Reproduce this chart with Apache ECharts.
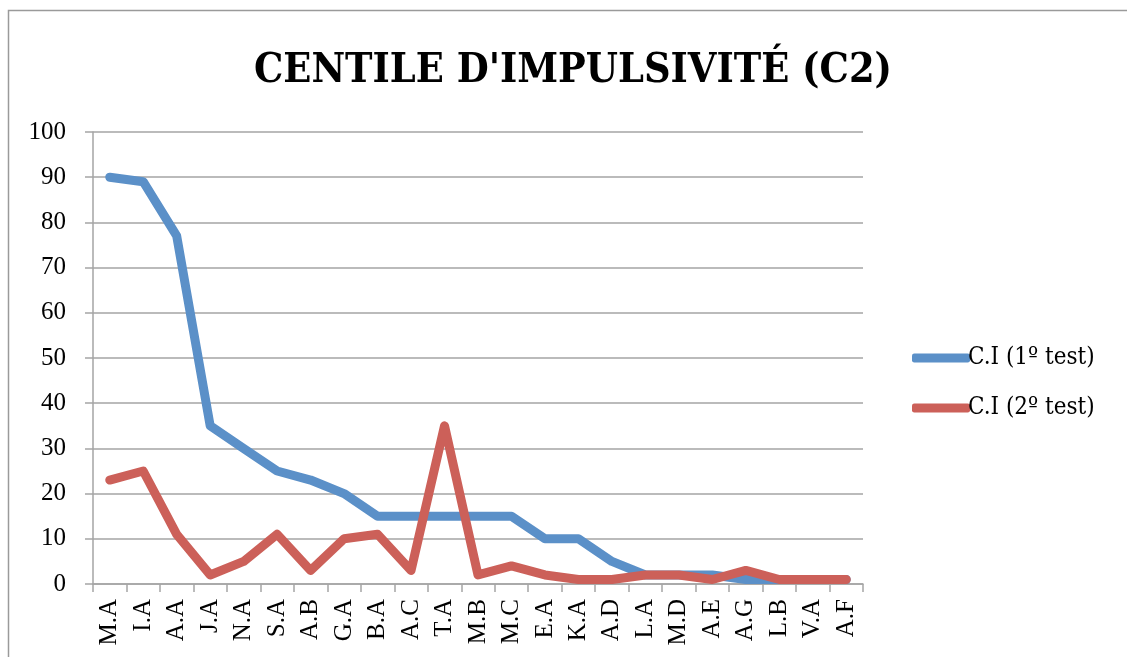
<!DOCTYPE html>
<html style="height: 100%">
<head>
    <meta charset="utf-8">
    <title>Centile d'impulsivité (C2)</title>
</head>
<body style="height: 100%; margin: 0; background: #fff">
    <div id="chart" style="width: 1127px; height: 657px;"></div>

    <script src="https://cdn.jsdelivr.net/npm/echarts@6/dist/echarts.min.js"></script>

    <script type="text/javascript">
    var categories = ['M.A', 'I.A', 'A.A', 'J.A', 'N.A', 'S.A', 'A.B', 'G.A', 'B.A', 'A.C', 'T.A', 'M.B',
        'M.C', 'E.A', 'K.A', 'A.D', 'L.A', 'M.D', 'A.E', 'A.G', 'L.B', 'V.A', 'A.F'];
    var test1 = [90, 89, 77, 35, 30, 25, 23, 20, 15, 15, 15, 15, 15, 10, 10, 5, 2, 2, 2, 1, 1, 1, 1];
    var test2 = [23, 25, 11, 2, 5, 11, 3, 10, 11, 3, 35, 2, 4, 2, 1, 1, 2, 2, 1, 3, 1, 1, 1];
    var seriesNames = ['C.I (1º test)', 'C.I (2º test)'];

    var gridColor = '#a5a5a5';

    var option = {
        backgroundColor: '#fff',
        animation: false,
        color: ['#5b90c8', '#cc6059'],
        title: {
            text: "CENTILE D'IMPULSIVITÉ (C2)",
            left: 568,
            top: 46,
            textAlign: 'center',
            textStyle: {
                fontFamily: 'DejaVu Serif Condensed',
                fontWeight: 'bold',
                fontSize: 41,
                color: '#000'
            }
        },
        legend: {
            orient: 'vertical',
            left: 907,
            top: 341,
            itemWidth: 58,
            itemHeight: 9,
            itemGap: 26,
            icon: 'roundRect',
            textStyle: {
                fontFamily: 'DejaVu Serif Condensed',
                fontSize: 24,
                color: '#000',
                padding: [0, 0, 0, -7]
            },
            data: seriesNames
        },
        graphic: [{
            type: 'rect',
            shape: { x: 8.5, y: 10.5, width: 1130, height: 660 },
            style: { fill: 'none', stroke: '#9a9a9a', lineWidth: 1.5 },
            silent: true
        }],
        grid: {
            left: 93,
            right: 264,
            top: 132,
            bottom: 73
        },
        xAxis: {
            type: 'category',
            data: categories,
            boundaryGap: true,
            axisLine: { lineStyle: { color: gridColor, width: 1.5 } },
            axisTick: { show: true, length: 8, interval: 0, lineStyle: { color: gridColor, width: 1.5 } },
            axisLabel: {
                interval: 0,
                rotate: 90,
                margin: 15,
                fontFamily: 'Liberation Serif',
                fontSize: 25,
                color: '#000'
            }
        },
        yAxis: {
            type: 'value',
            min: 0,
            max: 100,
            interval: 10,
            axisLine: { show: true, lineStyle: { color: gridColor, width: 1.5 } },
            axisTick: { show: true, length: 8, lineStyle: { color: gridColor, width: 1.5 } },
            splitLine: { lineStyle: { color: gridColor, width: 1.5 } },
            axisLabel: {
                margin: 27,
                fontFamily: 'Liberation Serif',
                fontSize: 25,
                color: '#000'
            }
        },
        series: [
            {
                name: seriesNames[0],
                type: 'line',
                data: test1,
                symbol: 'none',
                lineStyle: { width: 9, cap: 'round', join: 'round' }
            },
            {
                name: seriesNames[1],
                type: 'line',
                data: test2,
                symbol: 'none',
                lineStyle: { width: 9, cap: 'round', join: 'round' }
            }
        ]
    };

    var myChart = echarts.init(document.getElementById('chart'));
    myChart.setOption(option);
    </script>
</body>
</html>
